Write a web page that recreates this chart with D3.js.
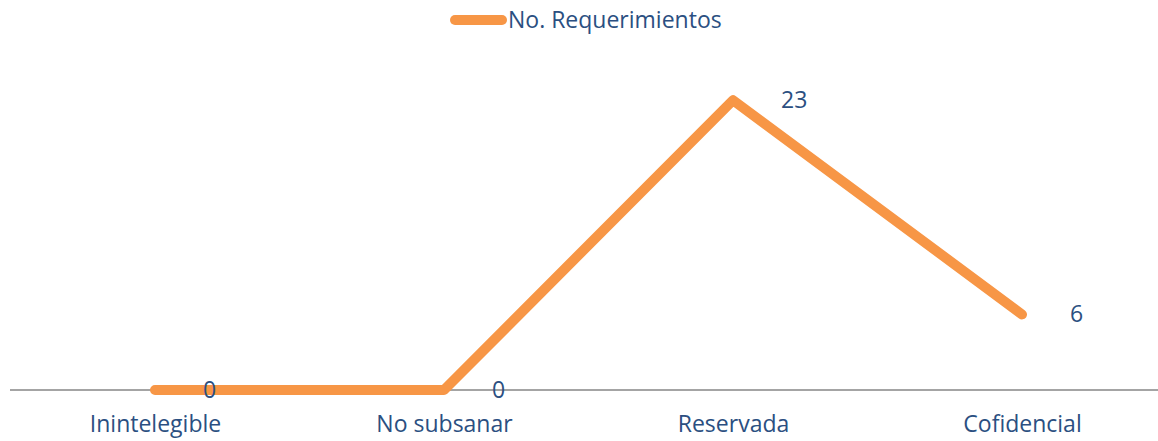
<!DOCTYPE html>
<html><head><meta charset="utf-8">
<script src="https://cdn.jsdelivr.net/npm/d3@7"></script>
<style>body{margin:0;background:#fff}svg{display:block}</style>
</head><body><svg id="c" width="1158" height="441"></svg>
<script>
const categories = ["Inintelegible", "No subsanar", "Reservada", "Cofidencial"];
const values = [0, 0, 23, 6];
const seriesName = "No. Requerimientos";

const W = 1158, H = 441;
const svg = d3.select("#c");
const orange = "#F79646", textCol = "#2B4F81", font = "'Open Sans', sans-serif";

const x = d3.scalePoint().domain(categories).range([10.5, 1166.5]).padding(0.5);
const y = d3.scaleLinear().domain([0, 25]).range([390, 75]);

// axis
const ax = svg.append("g").attr("transform", "translate(0,390)")
  .call(d3.axisBottom(x).tickSize(0).tickPadding(26));
ax.select(".domain").attr("d", "M10,0H1158").attr("stroke", "#868686").attr("stroke-width", 1.5);
ax.selectAll("text").attr("font-family", font).attr("font-size", 23).attr("fill", textCol);

// line
const line = d3.line().x((d, i) => x(categories[i])).y(d => y(d));
svg.append("path").datum(values).attr("d", line)
  .attr("fill", "none").attr("stroke", orange).attr("stroke-width", 10)
  .attr("stroke-linecap", "round").attr("stroke-linejoin", "round");

// labels
svg.selectAll(".lbl").data(values).enter().append("text")
  .attr("x", (d, i) => x(categories[i]) + 48)
  .attr("y", d => y(d))
  .attr("dy", "0.35em")
  .attr("text-anchor", "start")
  .attr("font-family", font).attr("font-size", 23).attr("fill", textCol)
  .text(d => d);

// legend
svg.append("line").attr("x1", 455).attr("x2", 502).attr("y1", 20).attr("y2", 20)
  .attr("stroke", orange).attr("stroke-width", 10).attr("stroke-linecap", "round");
svg.append("text").attr("x", 508).attr("y", 20).attr("dy", "0.35em")
  .attr("font-family", font).attr("font-size", 23).attr("fill", textCol).text(seriesName);
</script></body></html>
